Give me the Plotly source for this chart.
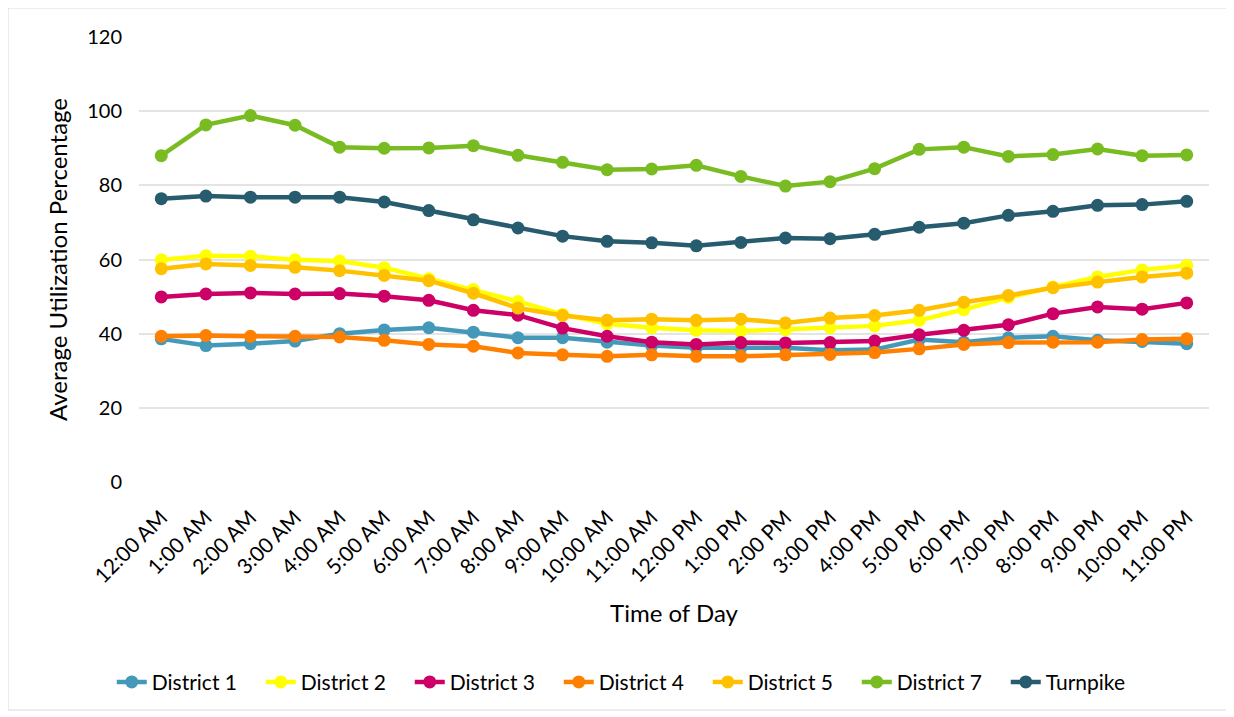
import plotly.graph_objects as go

hours = ["12:00 AM", "1:00 AM", "2:00 AM", "3:00 AM", "4:00 AM", "5:00 AM", "6:00 AM",
         "7:00 AM", "8:00 AM", "9:00 AM", "10:00 AM", "11:00 AM", "12:00 PM", "1:00 PM",
         "2:00 PM", "3:00 PM", "4:00 PM", "5:00 PM", "6:00 PM", "7:00 PM", "8:00 PM",
         "9:00 PM", "10:00 PM", "11:00 PM"]

district1 = [38.6, 36.8, 37.3, 38.0, 40.0, 41.0, 41.6, 40.4, 38.9, 38.9, 37.7, 36.8,
             36.2, 36.2, 36.2, 35.5, 35.7, 38.4, 37.7, 38.9, 39.3, 38.2, 37.9, 37.3]
district2 = [59.9, 61.0, 60.9, 59.9, 59.6, 57.8, 54.8, 51.9, 48.7, 45.2, 42.7, 41.6,
             40.9, 40.7, 41.1, 41.6, 42.1, 43.6, 46.5, 49.8, 52.6, 55.3, 57.2, 58.4]
district3 = [49.9, 50.7, 51.0, 50.7, 50.8, 50.1, 49.0, 46.3, 45.0, 41.5, 39.3, 37.7,
             37.1, 37.6, 37.5, 37.6, 38.0, 39.7, 40.9, 42.4, 45.4, 47.2, 46.6, 48.3]
district4 = [39.3, 39.5, 39.3, 39.3, 39.1, 38.2, 37.1, 36.6, 34.8, 34.3, 33.9, 34.3,
             33.9, 33.9, 34.3, 34.4, 34.9, 35.9, 37.1, 37.6, 37.7, 37.7, 38.4, 38.6]
district5 = [57.5, 58.8, 58.4, 57.9, 57.0, 55.7, 54.3, 50.9, 46.9, 44.9, 43.6, 43.9,
             43.6, 43.9, 42.9, 44.2, 44.9, 46.3, 48.5, 50.3, 52.4, 53.9, 55.3, 56.3]
district7 = [88.0, 96.3, 98.8, 96.2, 90.3, 90.0, 90.1, 90.7, 88.1, 86.2, 84.2, 84.4,
             85.4, 82.4, 79.8, 81.0, 84.5, 89.7, 90.3, 87.8, 88.3, 89.8, 88.0, 88.2]
turnpike = [76.4, 77.1, 76.8, 76.8, 76.8, 75.5, 73.2, 70.7, 68.5, 66.3, 64.9, 64.5,
            63.7, 64.6, 65.8, 65.6, 66.8, 68.7, 69.8, 71.9, 73.0, 74.6, 74.8, 75.7]

series = [
    ("District 1", district1, "#4599B8"),
    ("District 2", district2, "#FFFF00"),
    ("District 3", district3, "#CC0066"),
    ("District 4", district4, "#FF8000"),
    ("District 5", district5, "#FFC000"),
    ("District 7", district7, "#78BC21"),
    ("Turnpike", turnpike, "#275C6E"),
]

fig = go.Figure()
for name, vals, color in series:
    fig.add_trace(go.Scatter(
        x=hours, y=vals, name=name, mode="lines+markers",
        line=dict(color=color, width=4.5),
        marker=dict(color=color, size=13),
    ))

FONT = "Lato, 'Open Sans', sans-serif"
W, H = 1226, 709
L, T = 131, 29
PW, PH = 1070, 445
fig.update_layout(
    width=W, height=H,
    margin=dict(l=L, r=W - L - PW, t=T, b=H - T - PH, autoexpand=False),
    paper_bgcolor="white", plot_bgcolor="white",
    font=dict(family=FONT, color="black"),
    showlegend=True,
    legend=dict(orientation="h", x=0.51, xanchor="center", xref="container",
                y=0.049, yanchor="middle", yref="container",
                font=dict(size=21, family=FONT),
                entrywidth=104, entrywidthmode="pixels",
                tracegroupgap=0, traceorder="normal"),
    xaxis=dict(
        type="category", range=[-0.5, 23.5], tickangle=-45,
        tickfont=dict(size=21, family=FONT), showgrid=False, zeroline=False,
        showline=False, ticks="outside", ticklen=14, tickcolor="rgba(0,0,0,0)",
        title=dict(text="Time of Day", font=dict(size=24, family=FONT), standoff=18),
    ),
    yaxis=dict(
        range=[0, 120], dtick=20, tick0=0, tickfont=dict(size=20, family=FONT),
        showgrid=True, gridcolor="#E4E4E4", gridwidth=1.5, zeroline=False,
        showline=False, ticks="outside", ticklen=12, tickcolor="rgba(0,0,0,0)",
        title=dict(text="Average Utilization Percentage", font=dict(size=24, family=FONT), standoff=12),
    ),
    shapes=[dict(type="rect", xref="paper", yref="paper",
                 x0=(0 - L) / PW, x1=(1219 - L) / PW,
                 y0=(T + PH - 702) / PH, y1=(T + PH - 0) / PH,
                 line=dict(color="#D9D9D9", width=1), fillcolor="rgba(0,0,0,0)", layer="below")],
)

fig.write_html("out.html")
